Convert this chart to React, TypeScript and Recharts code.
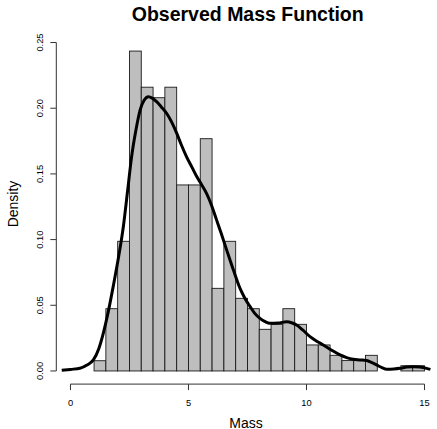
import { ComposedChart, Bar, Line, XAxis, YAxis, ReferenceLine } from 'recharts';

// histogram bins (centre of each 0.5-wide bin) and their densities
const binCenters = [
  1.25, 1.75, 2.25, 2.75, 3.25, 3.75, 4.25, 4.75, 5.25, 5.75, 6.25, 6.75, 7.25, 7.75,
  8.25, 8.75, 9.25, 9.75, 10.25, 10.75, 11.25, 11.75, 12.25, 12.75, 13.25, 13.75, 14.25, 14.75,
];
const binDensity = [
  0.0078, 0.0474, 0.0987, 0.2435, 0.216, 0.208, 0.216, 0.1416, 0.1416, 0.1768, 0.0629, 0.0987, 0.0553, 0.0474,
  0.0317, 0.0355, 0.0474, 0.0355, 0.0198, 0.0198, 0.0119, 0.0079, 0.0079, 0.0119, 0, 0, 0.004, 0.004,
];

// kernel density estimate
const kdeX = [
  -0.37, 0.0, 0.4, 0.7, 0.97, 1.2, 1.39, 1.6, 1.81, 2.05, 2.24, 2.42, 2.59, 2.78, 2.95, 3.12, 3.3, 3.48,
  3.65, 3.85, 4.08, 4.3, 4.5, 4.7, 4.92, 5.15, 5.35, 5.55, 5.77, 5.98, 6.19, 6.4, 6.62, 6.9, 7.18, 7.4,
  7.61, 7.8, 8.03, 8.25, 8.45, 8.8, 9.16, 9.4, 9.58, 9.85, 10.15, 10.45, 10.71, 11.05, 11.42, 11.7, 11.98,
  12.25, 12.55, 12.75, 12.97, 13.2, 13.4, 13.7, 13.96, 14.25, 14.53, 14.8, 15.09, 15.25,
];
const kdeY = [
  0.0005, 0.0012, 0.002, 0.0045, 0.0084, 0.017, 0.0287, 0.045, 0.0642, 0.088, 0.1098, 0.137, 0.163, 0.184,
  0.1986, 0.206, 0.2088, 0.2075, 0.205, 0.201, 0.196, 0.189, 0.181, 0.172, 0.163, 0.155, 0.148, 0.142,
  0.135, 0.126, 0.115, 0.104, 0.092, 0.077, 0.063, 0.055, 0.049, 0.044, 0.04, 0.0375, 0.0363, 0.0365,
  0.0375, 0.0365, 0.035, 0.031, 0.0261, 0.0225, 0.0198, 0.016, 0.0122, 0.0102, 0.0089, 0.0084, 0.0079,
  0.0065, 0.0046, 0.0025, 0.0013, 0.0015, 0.002, 0.003, 0.0033, 0.003, 0.002, 0.0012,
];

const xTicks = [0, 5, 10, 15];
const yTicks = [0, 0.05, 0.1, 0.15, 0.2, 0.25];

const bins = binCenters.map((x, i) => ({ x, density: binDensity[i] }));
const kde = kdeX.map((x, i) => ({ x, density: kdeY[i] }));

const FONT = '"Liberation Sans", Arial, Helvetica, sans-serif';
const AXIS = '#333';

const X_DOMAIN: [number, number] = [-0.6, 15.5];
const PLOT_W = 380;
const BIN_W = 0.5;
const binPx = (BIN_W * PLOT_W) / (X_DOMAIN[1] - X_DOMAIN[0]);

// recharts squeezes bars on a numeric axis, so draw each bin at its true width
const BinRect = ({ x, y, width, height }: any) => {
  if (!height) return null;
  const cx = x + width / 2;
  return (
    <rect
      x={cx - binPx / 2}
      y={y}
      width={binPx}
      height={height}
      fill="#bebebe"
      stroke="#1a1a1a"
      strokeWidth={0.9}
    />
  );
};

const YTick = ({ x, y, payload }: any) => (
  <text
    transform={`translate(${x},${y}) rotate(-90)`}
    textAnchor="middle"
    fontSize={9.3}
    fontFamily={FONT}
    fill="#000"
  >
    {Number(payload.value).toFixed(2)}
  </text>
);

export default function App() {
  return (
    <div style={{ position: 'absolute', left: 0, top: 0, width: 437, height: 429, background: '#fff' }}>
      <ComposedChart
        width={437}
        height={429}
        data={bins}
        margin={{ top: 29.4, right: 0.7, bottom: 0, left: 0 }}
        barCategoryGap={0}
        barGap={0}
      >
        <XAxis
          dataKey="x"
          type="number"
          domain={X_DOMAIN}
          allowDataOverflow
          ticks={xTicks}
          height={44.9}
          axisLine={false}
          tickLine={{ stroke: AXIS }}
          tickSize={6}
          tickMargin={9}
          tick={{ fontSize: 9.3, fontFamily: FONT, fill: '#000' }}
        />
        <YAxis
          type="number"
          domain={[-0.01, 0.26]}
          allowDataOverflow
          ticks={yTicks}
          width={56.3}
          axisLine={false}
          tickLine={{ stroke: AXIS }}
          tickSize={6}
          tickMargin={7.8}
          tick={<YTick />}
        />
        <Bar dataKey="density" shape={<BinRect />} isAnimationActive={false} />
        <Line
          data={kde}
          dataKey="density"
          type="monotone"
          stroke="#000"
          strokeWidth={3}
          dot={false}
          activeDot={false}
          isAnimationActive={false}
        />
        <ReferenceLine
          segment={[{ x: 0, y: -0.01 }, { x: 15, y: -0.01 }]}
          stroke={AXIS}
          strokeWidth={1}
          ifOverflow="visible"
        />
        <ReferenceLine
          segment={[{ x: -0.6, y: 0 }, { x: -0.6, y: 0.25 }]}
          stroke={AXIS}
          strokeWidth={1}
          ifOverflow="visible"
        />
      </ComposedChart>
      <svg
        width={437}
        height={429}
        style={{ position: 'absolute', left: 0, top: 0, pointerEvents: 'none' }}
      >
        <text x={247.7} y={20.7} textAnchor="middle" fontSize={19.5} fontWeight="bold" fontFamily={FONT} fill="#000">
          Observed Mass Function
        </text>
        <text x={246} y={427.5} textAnchor="middle" fontSize={14} fontFamily={FONT} fill="#000">
          Mass
        </text>
        <text
          transform="translate(18.3,204) rotate(-90)"
          textAnchor="middle"
          fontSize={14}
          fontFamily={FONT}
          fill="#000"
        >
          Density
        </text>
      </svg>
    </div>
  );
}
